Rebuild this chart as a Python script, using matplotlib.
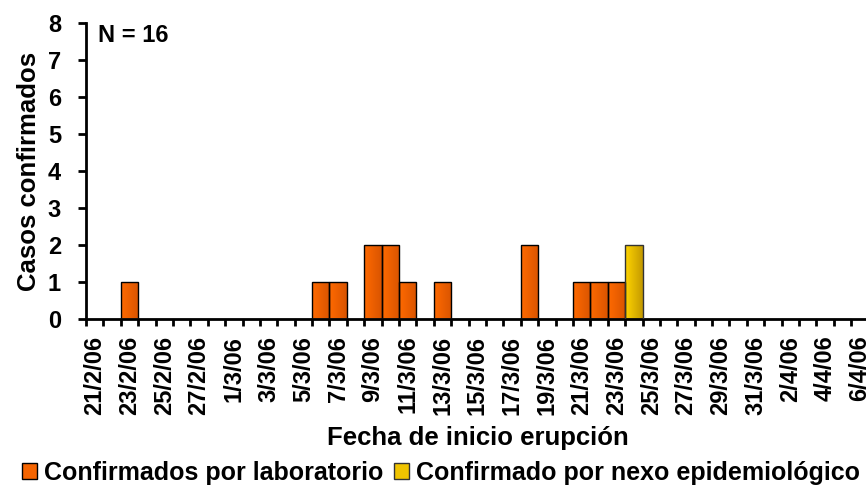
import matplotlib
matplotlib.use("Agg")
import matplotlib.pyplot as plt
from matplotlib.patches import Patch
from matplotlib.colors import LinearSegmentedColormap
import numpy as np
import pandas as pd

plt.rcParams['font.family'] = ['Liberation Sans', 'DejaVu Sans']
plt.rcParams['font.weight'] = 'bold'

# Days from 21/2/06 to 6/4/06
fechas = pd.date_range('2006-02-21', '2006-04-06')
etiquetas = [f"{d.day}/{d.month}/06" for d in fechas]

# Confirmed by laboratory, one value per day
laboratorio = [0, 0, 1, 0, 0, 0, 0, 0,
               0, 0, 0, 0, 0, 1, 1, 0, 2, 2, 1, 0, 1, 0, 0, 0, 0, 2, 0, 0, 1, 1, 1, 0,
               0, 0, 0, 0, 0, 0, 0,
               0, 0, 0, 0, 0, 0]
# Confirmed by epidemiological link
nexo = [0] * 8 + [0] * 23 + [2] + [0] * 7 + [0] * 6

total = sum(laboratorio) + sum(nexo)

fig = plt.figure(figsize=(8.66, 4.87), dpi=100)
ax = fig.add_axes([86 / 866, 168 / 487, 800 / 866, 296 / 487])

x = np.arange(len(etiquetas))
orange = LinearSegmentedColormap.from_list('o', ['#ff6a00', '#d95400'])
yellow = LinearSegmentedColormap.from_list('y', ['#ffd400', '#c49a00'])


def gradient_bars(vals, cmap, edge):
    bars = ax.bar(x, vals, width=1.0, color='none', edgecolor=edge, linewidth=1.0, zorder=3)
    grad = np.linspace(0, 1, 64).reshape(1, -1)
    for b, v in zip(bars, vals):
        if v <= 0:
            continue
        x0, w, h = b.get_x(), b.get_width(), b.get_height()
        im = ax.imshow(grad, cmap=cmap, extent=[x0, x0 + w, 0, h], aspect='auto', zorder=2)
        im.set_clip_path(b)
    return bars


gradient_bars(laboratorio, orange, 'black')
gradient_bars(nexo, yellow, '#333333')

ax.set_xlim(-0.5, len(etiquetas) + 0.5)
ax.set_ylim(0, 8)

ax.spines['top'].set_visible(False)
ax.spines['right'].set_visible(False)
ax.spines['left'].set_linewidth(2)
ax.spines['bottom'].set_linewidth(2)

ax.set_yticks(range(0, 9))
ax.tick_params(axis='y', direction='out', length=6, width=2, labelsize=17, pad=12)

ax.set_xticks(x[::2])
ax.set_xticklabels(etiquetas[::2], rotation=90, fontsize=17, fontweight='bold')
ax.set_xticks(np.arange(-0.5, len(etiquetas) + 1, 1), minor=True)
ax.tick_params(axis='x', which='major', length=0, pad=12)
ax.tick_params(axis='x', which='minor', direction='out', length=5, width=2)
for lab in ax.get_yticklabels():
    lab.set_fontweight('bold')

ax.set_ylabel('Casos confirmados', fontsize=18.5, fontweight='bold', labelpad=5)
ax.set_xlabel('Fecha de inicio erupción', fontsize=18.5, fontweight='bold', labelpad=4)
ax.xaxis.set_label_coords(0.49, -0.36)

ax.text(0.2, 7.65, f'N = {total}', fontsize=17, fontweight='bold', va='center', ha='left')

handles = [Patch(facecolor='#f56400', edgecolor='black', label='Confirmados por laboratorio'),
           Patch(facecolor='#f0c400', edgecolor='#333333', label='Confirmado por nexo epidemiológico')]
fig.legend(handles=handles, loc='center', bbox_to_anchor=(441 / 866, 1 - 473 / 487), ncol=2,
           frameon=False, fontsize=18, handlelength=0.6, handleheight=0.6,
           handletextpad=0.3, columnspacing=0.4, borderaxespad=0)

fig.savefig('out.png', dpi=100)
